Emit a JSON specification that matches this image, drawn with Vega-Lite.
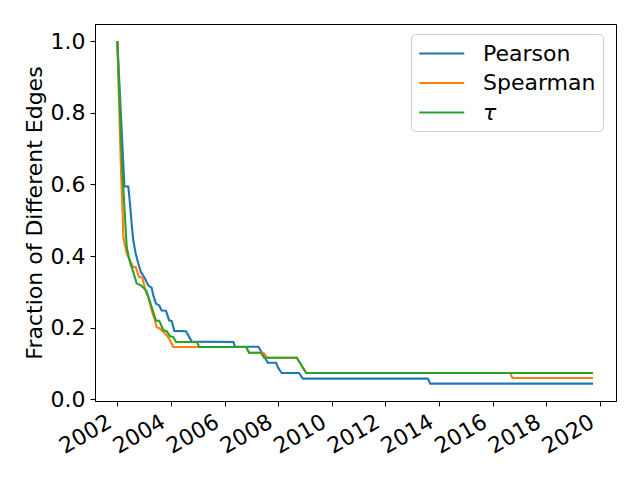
{
  "$schema": "https://vega.github.io/schema/vega-lite/v6.json",
  "width": 521,
  "height": 377,
  "autosize": "none",
  "padding": {"left": 95, "top": 24, "right": 24, "bottom": 79},
  "config": {
    "font": "DejaVu Sans",
    "view": {"stroke": "black", "strokeWidth": 1},
    "axis": {"grid": false, "domainColor": "black", "tickColor": "black", "labelColor": "black", "titleColor": "black", "labelFontSize": 22, "titleFontSize": 22, "titleFontWeight": "normal", "tickSize": 5, "labelPadding": 5}
  },
  "data": {"values": [
    {"d": "2002-01-01", "v": 1.0, "s": "Pearson"},
    {"d": "2002-04-08", "v": 0.594, "s": "Pearson"},
    {"d": "2002-05-31", "v": 0.594, "s": "Pearson"},
    {"d": "2002-06-22", "v": 0.547, "s": "Pearson"},
    {"d": "2002-07-15", "v": 0.491, "s": "Pearson"},
    {"d": "2002-08-06", "v": 0.444, "s": "Pearson"},
    {"d": "2002-09-08", "v": 0.407, "s": "Pearson"},
    {"d": "2002-10-13", "v": 0.380, "s": "Pearson"},
    {"d": "2002-11-19", "v": 0.355, "s": "Pearson"},
    {"d": "2003-01-13", "v": 0.337, "s": "Pearson"},
    {"d": "2003-02-26", "v": 0.318, "s": "Pearson"},
    {"d": "2003-04-14", "v": 0.311, "s": "Pearson"},
    {"d": "2003-05-06", "v": 0.290, "s": "Pearson"},
    {"d": "2003-06-11", "v": 0.267, "s": "Pearson"},
    {"d": "2003-07-26", "v": 0.262, "s": "Pearson"},
    {"d": "2003-08-28", "v": 0.248, "s": "Pearson"},
    {"d": "2003-10-26", "v": 0.247, "s": "Pearson"},
    {"d": "2003-12-09", "v": 0.220, "s": "Pearson"},
    {"d": "2004-01-12", "v": 0.219, "s": "Pearson"},
    {"d": "2004-02-16", "v": 0.191, "s": "Pearson"},
    {"d": "2004-07-25", "v": 0.190, "s": "Pearson"},
    {"d": "2004-10-11", "v": 0.161, "s": "Pearson"},
    {"d": "2006-05-01", "v": 0.160, "s": "Pearson"},
    {"d": "2006-05-24", "v": 0.1465, "s": "Pearson"},
    {"d": "2007-04-07", "v": 0.1465, "s": "Pearson"},
    {"d": "2007-06-14", "v": 0.123, "s": "Pearson"},
    {"d": "2007-08-13", "v": 0.102, "s": "Pearson"},
    {"d": "2007-12-04", "v": 0.102, "s": "Pearson"},
    {"d": "2008-01-04", "v": 0.087, "s": "Pearson"},
    {"d": "2008-02-19", "v": 0.0734, "s": "Pearson"},
    {"d": "2008-10-12", "v": 0.0734, "s": "Pearson"},
    {"d": "2008-12-02", "v": 0.0578, "s": "Pearson"},
    {"d": "2013-07-31", "v": 0.0578, "s": "Pearson"},
    {"d": "2013-09-03", "v": 0.0438, "s": "Pearson"},
    {"d": "2019-09-30", "v": 0.0438, "s": "Pearson"},
    {"d": "2002-01-01", "v": 1.0, "s": "Spearman"},
    {"d": "2002-02-20", "v": 0.639, "s": "Spearman"},
    {"d": "2002-03-10", "v": 0.547, "s": "Spearman"},
    {"d": "2002-03-24", "v": 0.453, "s": "Spearman"},
    {"d": "2002-05-09", "v": 0.407, "s": "Spearman"},
    {"d": "2002-06-22", "v": 0.388, "s": "Spearman"},
    {"d": "2002-08-07", "v": 0.369, "s": "Spearman"},
    {"d": "2002-09-09", "v": 0.369, "s": "Spearman"},
    {"d": "2002-10-24", "v": 0.341, "s": "Spearman"},
    {"d": "2002-12-08", "v": 0.340, "s": "Spearman"},
    {"d": "2003-01-13", "v": 0.309, "s": "Spearman"},
    {"d": "2003-02-26", "v": 0.286, "s": "Spearman"},
    {"d": "2003-04-14", "v": 0.248, "s": "Spearman"},
    {"d": "2003-05-30", "v": 0.220, "s": "Spearman"},
    {"d": "2003-06-22", "v": 0.201, "s": "Spearman"},
    {"d": "2003-08-06", "v": 0.197, "s": "Spearman"},
    {"d": "2003-09-20", "v": 0.188, "s": "Spearman"},
    {"d": "2003-11-05", "v": 0.179, "s": "Spearman"},
    {"d": "2003-12-20", "v": 0.165, "s": "Spearman"},
    {"d": "2004-02-02", "v": 0.146, "s": "Spearman"},
    {"d": "2006-10-22", "v": 0.146, "s": "Spearman"},
    {"d": "2006-12-01", "v": 0.130, "s": "Spearman"},
    {"d": "2007-05-10", "v": 0.130, "s": "Spearman"},
    {"d": "2007-06-17", "v": 0.129, "s": "Spearman"},
    {"d": "2007-08-03", "v": 0.116, "s": "Spearman"},
    {"d": "2008-09-11", "v": 0.116, "s": "Spearman"},
    {"d": "2009-01-17", "v": 0.0734, "s": "Spearman"},
    {"d": "2016-08-28", "v": 0.0734, "s": "Spearman"},
    {"d": "2016-09-25", "v": 0.0594, "s": "Spearman"},
    {"d": "2019-09-30", "v": 0.0594, "s": "Spearman"},
    {"d": "2002-01-01", "v": 1.0, "s": "τ"},
    {"d": "2002-03-10", "v": 0.639, "s": "τ"},
    {"d": "2002-04-05", "v": 0.546, "s": "τ"},
    {"d": "2002-05-09", "v": 0.425, "s": "τ"},
    {"d": "2002-06-22", "v": 0.383, "s": "τ"},
    {"d": "2002-08-07", "v": 0.355, "s": "τ"},
    {"d": "2002-09-22", "v": 0.323, "s": "τ"},
    {"d": "2002-11-19", "v": 0.318, "s": "τ"},
    {"d": "2003-01-04", "v": 0.309, "s": "τ"},
    {"d": "2003-02-05", "v": 0.300, "s": "τ"},
    {"d": "2003-04-14", "v": 0.258, "s": "τ"},
    {"d": "2003-06-11", "v": 0.220, "s": "τ"},
    {"d": "2003-07-26", "v": 0.219, "s": "τ"},
    {"d": "2003-09-20", "v": 0.193, "s": "τ"},
    {"d": "2003-11-05", "v": 0.190, "s": "τ"},
    {"d": "2003-12-20", "v": 0.176, "s": "τ"},
    {"d": "2004-02-02", "v": 0.174, "s": "τ"},
    {"d": "2004-03-11", "v": 0.160, "s": "τ"},
    {"d": "2004-12-18", "v": 0.160, "s": "τ"},
    {"d": "2005-01-23", "v": 0.146, "s": "τ"},
    {"d": "2006-10-22", "v": 0.146, "s": "τ"},
    {"d": "2006-12-01", "v": 0.130, "s": "τ"},
    {"d": "2007-05-10", "v": 0.130, "s": "τ"},
    {"d": "2007-06-24", "v": 0.116, "s": "τ"},
    {"d": "2008-09-11", "v": 0.116, "s": "τ"},
    {"d": "2009-01-17", "v": 0.0734, "s": "τ"},
    {"d": "2019-09-30", "v": 0.0734, "s": "τ"}
  ]},
  "mark": {"type": "line", "strokeWidth": 2.1},
  "encoding": {
    "x": {
      "field": "d", "type": "temporal",
      "scale": {"domain": [{"year": 2001, "month": 3, "date": 3}, {"year": 2020, "month": 8, "date": 7}]},
      "axis": {
        "title": null, "format": "%Y",
        "values": [{"year": 2002}, {"year": 2004}, {"year": 2006}, {"year": 2008}, {"year": 2010}, {"year": 2012}, {"year": 2014}, {"year": 2016}, {"year": 2018}, {"year": 2020}],
        "labelAngle": -30, "labelAlign": "right", "labelBaseline": "top", "labelOverlap": false, "labelFlush": false,
        "labelOffset": -13
      }
    },
    "y": {
      "field": "v", "type": "quantitative",
      "scale": {"domain": [-0.0048, 1.0478], "nice": false, "zero": false},
      "axis": {"title": "Fraction of Different Edges", "values": [0, 0.2, 0.4, 0.6, 0.8, 1.0], "format": ".1f", "titlePadding": 4}
    },
    "color": {
      "field": "s", "type": "nominal",
      "scale": {"domain": ["Pearson", "Spearman", "τ"], "range": ["#1f77b4", "#ff7f0e", "#2ca02c"]},
      "legend": {
        "title": null, "orient": "none", "legendX": 316, "legendY": 10,
        "symbolType": "M-1,0H3", "symbolSize": 506, "symbolStrokeWidth": 2.1, "symbolFillColor": "transparent",
        "labelFontSize": 22, "labelColor": "black", "labelOffset": 40,
        "padding": 7, "rowPadding": 5.5,
        "strokeColor": "#cccccc", "fillColor": "white", "cornerRadius": 4,
        "encode": {"labels": {"update": {"fontStyle": {"signal": "datum.label === 'τ' ? 'italic' : 'normal'"}}}}
      }
    }
  }
}
